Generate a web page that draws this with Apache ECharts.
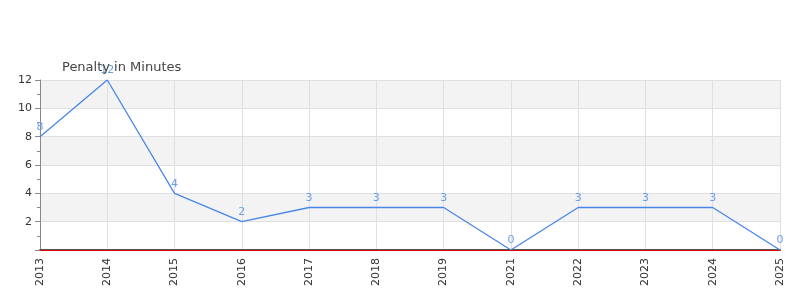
<!DOCTYPE html>
<html><head><meta charset="utf-8">
<script src="https://cdn.jsdelivr.net/npm/echarts@6/dist/echarts.min.js"></script>
<style>html,body{margin:0;padding:0;background:#fff}#c{width:800px;height:300px}</style>
</head><body><div id="c"></div>
<script>
var years = ['2013','2014','2015','2016','2017','2018','2019','2021','2022','2023','2024','2025'];
var penalty = [8, 12, 4, 2, 3, 3, 3, 0, 3, 3, 3, 0];
var titleText = 'Penalty in Minutes';

var chart = echarts.init(document.getElementById('c'), null, {renderer: 'canvas'});
chart.setOption({
  animation: false,
  title: {text: titleText, left: 57, top: 56, textStyle: {fontSize: 13, fontWeight: 'normal', color: '#444', fontFamily: 'DejaVu Sans'}},
  grid: {left: 40, right: 20, top: 80, bottom: 50, containLabel: false},
  xAxis: {
    type: 'category', data: years, boundaryGap: false,
    axisLine: {lineStyle: {color: '#555', width: 2}},
    axisTick: {show: false},
    axisLabel: {rotate: 90, color: '#333', fontSize: 11, fontFamily: 'DejaVu Sans', margin: 8},
    splitLine: {show: true, lineStyle: {color: '#e0e0e0'}}
  },
  yAxis: {
    type: 'value', min: 0, max: 12, interval: 2,
    axisLine: {show: true, lineStyle: {color: '#888'}},
    axisTick: {show: true, length: 5, lineStyle: {color: '#888'}},
    minorTick: {show: true, splitNumber: 2, length: 3, lineStyle: {color: '#888'}},
    axisLabel: {color: '#333', fontSize: 11, fontFamily: 'DejaVu Sans', margin: 8,
      formatter: function(v){ return v === 0 ? '' : String(v); }},
    splitLine: {show: true, lineStyle: {color: '#e0e0e0'}},
    splitArea: {show: true, areaStyle: {color: ['#ffffff', '#f3f3f3']}}
  },
  series: [{
    type: 'line', data: penalty, symbol: 'circle', symbolSize: 2, showSymbol: true,
    itemStyle: {color: 'rgba(0,0,0,0)', borderWidth: 0},
    lineStyle: {color: '#4a86e8', width: 1.3},
    label: {show: true, position: 'top', color: '#6d9eeb', fontSize: 11, fontFamily: 'DejaVu Sans', distance: 3},
    labelLayout: {hideOverlap: false},
    markLine: {silent: true, symbol: 'none', label: {show: false},
      lineStyle: {color: '#e00000', width: 1, type: 'solid'},
      data: [{yAxis: 0}]}
  }]
});
</script></body></html>
